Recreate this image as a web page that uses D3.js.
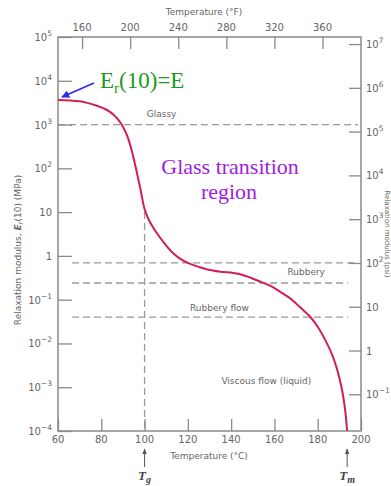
<!DOCTYPE html>
<html>
<head>
<meta charset="utf-8">
<script src="https://cdn.jsdelivr.net/npm/d3@7/dist/d3.min.js"></script>
<style>
  body { margin: 0; background: #fff; }
  svg { display: block; font-family: "DejaVu Sans", sans-serif; }
  .tick text, .lbl { fill: #666; }
  .frame { fill: none; stroke: #8a8a8a; stroke-width: 1.5; }
  .level { stroke: #999; stroke-width: 1.3; stroke-dasharray: 7,4; }
</style>
</head>
<body>
<svg id="chart" width="391" height="486"></svg>
<script>
// temperature (C) and relaxation modulus Er(10) in MPa
var tempC = [60, 65, 70, 74, 78, 82, 84, 86, 88, 90, 92, 94, 96, 98, 100, 102, 105, 109, 113, 116, 120,
             125, 129, 135, 141, 145, 149, 154, 158, 162, 167, 172, 176.5, 180, 184, 187, 189, 191, 192.5, 193.6];
var logModulus = [3.56, 3.55, 3.53, 3.49, 3.43, 3.35, 3.29, 3.21, 3.1, 2.95, 2.74, 2.42, 2.0, 1.55, 1.07, 0.82, 0.57, 0.3, 0.07, -0.05, -0.16,
             -0.25, -0.31, -0.36, -0.39, -0.43, -0.5, -0.6, -0.68, -0.8, -0.96, -1.18, -1.39, -1.62, -1.97, -2.3, -2.6, -3.0, -3.45, -4.0];

var bottomTicks = [60, 80, 100, 120, 140, 160, 180, 200];
var topTicks = [160, 200, 240, 280, 320, 360];
var leftExp = [-4, -3, -2, -1, 0, 1, 2, 3, 4, 5];
var rightExp = [-1, 0, 1, 2, 3, 4, 5, 6, 7];

// dashed reference levels (MPa) and their temperature span
var levelValues = [1000, 0.69, 0.24, 0.04];
var levelFrom = [60, 66.5, 66.5, 66.5];
var levelTo = [198.6, 198, 194, 194];

var regionNames = ["Glassy", "Rubbery", "Rubbery flow", "Viscous flow (liquid)"];
var regionT = [101, 166, 121, 135.5];
var regionE = [1500, 0.37, 0.055, 0.0012];

var Tg = 100, Tm = 193.6;

var svg = d3.select("#chart");
var x = d3.scaleLinear().domain([60, 200]).range([58, 361]);
var xF = d3.scaleLinear().domain([60 * 9 / 5 + 32, 200 * 9 / 5 + 32]).range([58, 361]);
var y = d3.scaleLog().domain([1e-4, 1e5]).range([431, 37]);
var yPsi = d3.scaleLog().domain([1e-4 * 145.04, 1e5 * 145.04]).range([431, 37]);

function powLabel(sel, e) {
  sel.text(null);
  if (e === 0) { sel.text("1"); return; }
  if (e === 1) { sel.text("10"); return; }
  sel.append("tspan").text("10");
  sel.append("tspan").attr("dy", -5).attr("font-size", 7.5).text(e < 0 ? "\u2212" + (-e) : e);
}

// dashed levels
levelValues.forEach(function (v, i) {
  svg.append("line").attr("class", "level")
    .attr("x1", x(levelFrom[i])).attr("x2", x(levelTo[i]))
    .attr("y1", y(v)).attr("y2", y(v));
});
svg.append("line").attr("class", "level")
  .attr("x1", x(Tg)).attr("x2", x(Tg))
  .attr("y1", y(10)).attr("y2", y(1e-4));

// axes
var gB = svg.append("g").attr("transform", "translate(0,431)")
  .call(d3.axisTop(x).tickValues(bottomTicks).tickSize(12).tickFormat(""));
bottomTicks.forEach(function (t) {
  svg.append("text").attr("class", "lbl").attr("x", x(t)).attr("y", 443)
    .attr("text-anchor", "middle").attr("font-size", 10).text(t);
});
var gT = svg.append("g").attr("transform", "translate(0,37)")
  .call(d3.axisBottom(xF).tickValues(topTicks).tickSize(12).tickFormat(""));
topTicks.forEach(function (t) {
  svg.append("text").attr("class", "lbl").attr("x", xF(t)).attr("y", 31)
    .attr("text-anchor", "middle").attr("font-size", 10).text(t);
});
var gL = svg.append("g").attr("transform", "translate(58,0)")
  .call(d3.axisRight(y).tickValues(leftExp.map(function (e) { return Math.pow(10, e); })).tickSize(14).tickFormat(""));
leftExp.forEach(function (e) {
  var t = svg.append("text").attr("class", "lbl").attr("x", 52).attr("y", y(Math.pow(10, e)) + 4)
    .attr("text-anchor", "end").attr("font-size", 10);
  powLabel(t, e);
});
var gR = svg.append("g").attr("transform", "translate(361,0)")
  .call(d3.axisLeft(yPsi).tickValues(rightExp.map(function (e) { return Math.pow(10, e); })).tickSize(12).tickFormat(""));
rightExp.forEach(function (e) {
  var t = svg.append("text").attr("class", "lbl").attr("x", 366).attr("y", yPsi(Math.pow(10, e)) + 4)
    .attr("font-size", 10);
  powLabel(t, e);
});
[gB, gT, gL, gR].forEach(function (g) {
  g.select(".domain").remove();
  g.selectAll(".tick line").attr("stroke", "#8a8a8a").attr("stroke-width", 1.3);
});
svg.append("rect").attr("class", "frame").attr("x", 58).attr("y", 37).attr("width", 303).attr("height", 394);

// axis titles
svg.append("text").attr("class", "lbl").attr("x", 204).attr("y", 15)
  .attr("text-anchor", "middle").attr("font-size", 9).text("Temperature (\u00B0F)");
svg.append("text").attr("class", "lbl").attr("x", 209).attr("y", 459)
  .attr("text-anchor", "middle").attr("font-size", 9).text("Temperature (\u00B0C)");
var yl = svg.append("text").attr("class", "lbl").attr("transform", "translate(21,250) rotate(-90)")
  .attr("text-anchor", "middle").attr("font-size", 9);
yl.append("tspan").text("Relaxation modulus, ");
yl.append("tspan").attr("font-style", "italic").attr("font-weight", "bold").text("E");
yl.append("tspan").attr("font-size", 7).attr("dy", 2).attr("font-style", "italic").text("r");
yl.append("tspan").attr("dy", -2).text("(10) (MPa)");
svg.append("text").attr("class", "lbl").attr("transform", "translate(385,234) rotate(90)")
  .attr("text-anchor", "middle").attr("font-size", 7).text("Relaxation modulus (psi)");

// region labels
regionNames.forEach(function (n, i) {
  svg.append("text").attr("class", "lbl").attr("x", x(regionT[i])).attr("y", y(regionE[i]))
    .attr("font-size", 9).text(n);
});

// curve
var pts = tempC.map(function (t, i) { return [t, Math.pow(10, logModulus[i])]; });
svg.append("path").datum(pts)
  .attr("fill", "none").attr("stroke", "#cf1f55").attr("stroke-width", 2)
  .attr("d", d3.line().x(function (d) { return x(d[0]); }).y(function (d) { return y(d[1]); })
    .curve(d3.curveCatmullRom.alpha(0.5)));

// Tg and Tm markers
svg.append("defs").append("marker").attr("id", "head").attr("viewBox", "0 0 10 10")
  .attr("refX", 9).attr("refY", 5).attr("markerWidth", 6).attr("markerHeight", 6).attr("orient", "auto")
  .append("path").attr("d", "M0,1 L10,5 L0,9 Z").attr("fill", "#555");
[[Tg, "g"], [Tm, "m"]].forEach(function (m) {
  svg.append("line").attr("x1", x(m[0])).attr("x2", x(m[0])).attr("y1", 467).attr("y2", 449)
    .attr("stroke", "#555").attr("stroke-width", 1).attr("marker-end", "url(#head)");
  var t = svg.append("text").attr("x", x(m[0])).attr("y", 480).attr("text-anchor", "middle")
    .attr("font-family", "Liberation Serif, serif").attr("font-style", "italic").attr("font-weight", "bold")
    .attr("font-size", 13).attr("fill", "#444");
  t.append("tspan").text("T");
  t.append("tspan").attr("font-size", 10).attr("dy", 3).text(m[1]);
});

// annotations
var er = svg.append("text").attr("x", 100).attr("y", 88)
  .attr("font-family", "Liberation Serif, serif").attr("font-size", 23).attr("fill", "#1a9a1a");
er.append("tspan").text("E");
er.append("tspan").attr("font-size", 15).attr("dy", 5).text("r");
er.append("tspan").attr("dy", -5).text("(10)=E");
svg.append("defs").append("marker").attr("id", "bhead").attr("viewBox", "0 0 10 10")
  .attr("refX", 9).attr("refY", 5).attr("markerWidth", 5).attr("markerHeight", 5).attr("orient", "auto")
  .append("path").attr("d", "M0,0 L10,5 L0,10 Z").attr("fill", "#2a2af0");
svg.append("line").attr("x1", 94).attr("y1", 83).attr("x2", 62).attr("y2", 97)
  .attr("stroke", "#2a2af0").attr("stroke-width", 1.6).attr("marker-end", "url(#bhead)");

svg.append("text").attr("x", 230).attr("y", 174).attr("text-anchor", "middle")
  .attr("font-family", "Liberation Serif, serif").attr("font-size", 22).attr("fill", "#a020e0")
  .text("Glass transition");
svg.append("text").attr("x", 229).attr("y", 199).attr("text-anchor", "middle")
  .attr("font-family", "Liberation Serif, serif").attr("font-size", 22).attr("fill", "#a020e0")
  .text("region");
</script>
</body>
</html>
